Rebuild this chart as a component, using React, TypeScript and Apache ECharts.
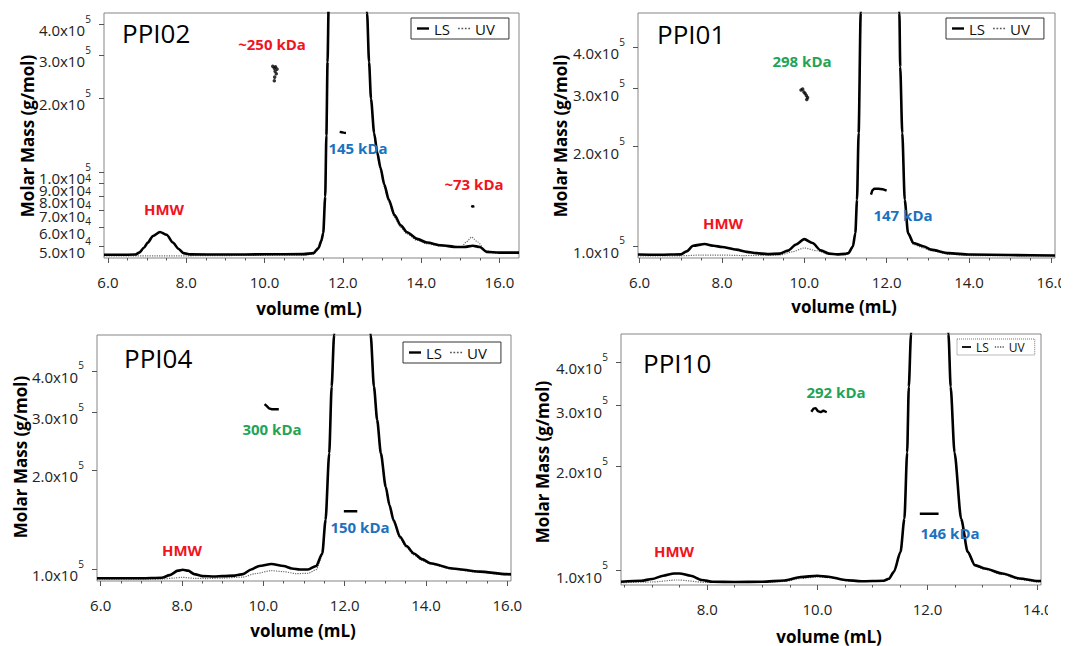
import React, { useEffect, useRef } from 'react';
import * as echarts from 'echarts';

const FONT = '"Open Sans", "Noto Sans", "DejaVu Sans", sans-serif';

// ---------------- data ----------------
const xTicksWide = [6, 8, 10, 12, 14, 16];
const xMinorWide = [6.5, 7, 7.5, 8.5, 9, 9.5, 10.5, 11, 11.5, 12.5, 13, 13.5, 14.5, 15, 15.5];
const xTicksNarrow = [8, 10, 12, 14];
const xMinorNarrow = [6.5, 7, 7.5, 8.5, 9, 9.5, 10.5, 11, 11.5, 12.5, 13, 13.5];
const yTicksPPI02 = [4e5, 3e5, 2e5, 1e5, 9e4, 8e4, 7e4, 6e4, 5e4];
const yTicksStd = [4e5, 3e5, 2e5, 1e5];

// detector traces: [volume mL, relative signal % of plot height]
const ppi02LS = [[5.9,1.3],[6.3,1.3],[6.7,1.4],[6.8,2.2],[6.92,4.2],[7.02,6.3],[7.15,9.0],[7.33,10.6],[7.5,9.5],[7.66,6.3],[7.8,3.8],[7.93,2.0],[8.1,1.5],[9.0,1.4],[10.0,1.5],[11.0,1.6],[11.25,2.0],[11.38,4.1],[11.45,7.0],[11.5,10.2],[11.55,25],[11.58,50],[11.61,80],[11.64,105],[11.72,160],[12.1,320],[12.5,150],[12.62,100],[12.67,80],[12.72,65],[12.8,51],[12.88,43],[12.96,37],[13.06,30],[13.17,24],[13.32,17.5],[13.48,13.3],[13.64,10.5],[13.9,7.8],[14.15,6.3],[14.5,5.2],[14.92,4.5],[15.1,4.5],[15.32,5.0],[15.5,4.5],[15.67,2.5],[16.0,2.2],[16.5,2.2]];
const ppi02UV = [[5.9,0.9],[7.0,0.9],[8.0,0.9],[9.0,1.0],[10.0,1.1],[11.0,1.2],[11.25,1.6],[11.38,3.6],[11.45,6.5],[11.5,9.8],[11.55,24.5],[11.58,49],[11.61,79],[11.64,104],[11.72,158],[12.1,318],[12.5,150],[12.62,100],[12.67,79],[12.72,64],[12.8,50],[12.88,42],[12.96,36],[13.06,29],[13.17,23],[13.32,16.6],[13.48,12.5],[13.64,9.8],[13.9,7.2],[14.15,5.8],[14.5,4.8],[14.92,4.3],[15.04,4.6],[15.15,6.5],[15.29,8.5],[15.45,6.5],[15.64,3.0],[15.9,2.0],[16.5,1.8]];
const ppi01LS = [[5.96,1.4],[6.5,1.3],[7.0,1.5],[7.14,2.7],[7.3,5.0],[7.58,5.7],[7.8,5.0],[8.0,4.5],[8.35,3.4],[8.6,2.5],[8.84,2.0],[9.1,1.6],[9.4,1.8],[9.6,3.0],[9.8,5.5],[10.0,7.7],[10.2,6.1],[10.4,3.1],[10.6,1.8],[10.8,1.5],[11.0,1.7],[11.07,2.0],[11.18,4.7],[11.24,10.2],[11.28,23.7],[11.32,51],[11.37,100],[11.45,150],[11.8,300],[12.2,150],[12.31,100],[12.33,78],[12.38,51],[12.44,23.7],[12.52,10.2],[12.65,6.1],[12.91,4.7],[13.08,3.4],[13.5,2.0],[14.02,1.4],[15.0,1.2],[16.09,1.0]];
const ppi01UV = [[5.96,0.9],[7.0,0.9],[7.5,1.2],[8.0,1.2],[8.5,1.0],[9.4,1.2],[9.7,2.5],[10.0,4.1],[10.3,3.0],[10.6,1.5],[11.0,1.4],[11.07,1.8],[11.18,4.4],[11.24,9.8],[11.28,23],[11.32,50],[11.37,99],[11.45,149],[11.8,298],[12.2,149],[12.31,99],[12.33,77],[12.38,50],[12.44,23],[12.52,9.6],[12.65,5.5],[12.91,4.0],[13.08,3.0],[13.5,1.6],[14.02,1.0],[16.09,0.8]];
const ppi04LS = [[5.91,1.1],[7.0,1.1],[7.5,1.3],[7.7,2.4],[7.9,4.2],[8.02,4.6],[8.15,4.2],[8.3,2.8],[8.5,2.0],[8.8,1.8],[9.0,2.0],[9.3,2.2],[9.5,2.8],[9.7,4.7],[9.9,6.1],[10.2,6.9],[10.5,6.1],[10.7,5.1],[10.9,4.7],[11.1,4.7],[11.3,6.1],[11.45,11.2],[11.53,24.8],[11.62,51.9],[11.68,79],[11.74,100],[11.8,140],[12.2,300],[12.55,140],[12.64,100],[12.72,79],[12.8,65.4],[12.89,51.9],[13.01,38.3],[13.1,31],[13.2,24.8],[13.36,18],[13.52,14.2],[13.7,11.2],[13.9,8.9],[14.11,7.2],[14.65,5.1],[15.32,3.8],[15.98,2.8],[16.09,2.7]];
const ppi04UV = [[5.91,0.8],[7.5,0.8],[7.8,1.2],[8.0,1.5],[8.3,1.1],[8.6,1.0],[9.0,1.2],[9.5,1.6],[9.8,3.0],[10.2,4.2],[10.5,3.8],[10.8,3.0],[11.1,3.1],[11.3,4.6],[11.45,10.4],[11.53,24],[11.62,51],[11.68,78],[11.74,99],[11.8,139],[12.2,298],[12.55,139],[12.64,99],[12.72,78],[12.8,64.5],[12.89,51],[13.01,37.5],[13.1,30.3],[13.2,24],[13.36,17.3],[13.52,13.6],[13.7,10.6],[13.9,8.4],[14.11,6.8],[14.65,4.8],[15.32,3.5],[15.98,2.5],[16.09,2.4]];
const ppi10LS = [[6.435,1.3],[6.8,1.7],[7.0,2.4],[7.2,3.7],[7.4,4.6],[7.5,4.6],[7.7,3.7],[7.9,2.0],[8.1,1.3],[8.5,1.2],[9.0,1.3],[9.4,1.8],[9.7,3.2],[10.0,3.7],[10.2,3.3],[10.5,2.0],[10.8,1.5],[11.2,1.7],[11.3,2.5],[11.39,5.3],[11.51,13.2],[11.58,26.4],[11.63,52.8],[11.66,79],[11.7,100],[11.8,160],[12.0,300],[12.3,160],[12.38,100],[12.42,79],[12.49,52.8],[12.61,26.4],[12.73,13.2],[12.86,7.9],[13.04,6.6],[13.36,4.6],[13.67,2.6],[14.0,1.6],[14.06,1.6]];
const ppi10UV = [[6.435,0.9],[7.0,1.2],[7.45,2.0],[8.0,1.0],[9.0,1.0],[9.4,1.4],[9.7,2.6],[10.0,3.2],[10.3,2.8],[10.6,1.4],[11.2,1.4],[11.3,2.2],[11.39,5.0],[11.51,12.8],[11.58,26],[11.63,52],[11.66,78],[11.7,99],[11.8,159],[12.0,298],[12.3,159],[12.38,99],[12.42,78],[12.49,52],[12.61,25.8],[12.73,12.8],[12.86,7.5],[13.04,6.2],[13.36,4.2],[13.67,2.2],[14.0,1.2],[14.06,1.2]];

// molar mass points: [volume mL, molar mass g/mol]
const ppi02MMDimer = [[10.21,2.70e5],[10.28,2.69e5],[10.25,2.65e5],[10.32,2.63e5],[10.27,2.58e5],[10.3,2.52e5],[10.26,2.44e5],[10.25,2.36e5]];
const ppi02MMMono = [[11.92,1.46e5],[11.97,1.455e5],[12.02,1.45e5],[12.08,1.445e5]];
const ppi02MMFrag = [[15.28,7.30e4],[15.32,7.25e4],[15.36,7.28e4]];
const ppi01MMDimer = [[9.92,2.97e5],[9.96,2.99e5],[9.99,2.93e5],[10.02,2.9e5],[10.05,2.86e5],[10.08,2.82e5],[10.06,2.78e5]];
const ppi01MMMono = [[11.62,1.43e5],[11.65,1.47e5],[11.7,1.49e5],[11.8,1.49e5],[11.9,1.485e5],[12.0,1.47e5]];
const ppi04MMDimer = [[10.03,3.17e5],[10.08,3.13e5],[10.14,3.08e5],[10.2,3.06e5],[10.3,3.06e5],[10.38,3.06e5]];
const ppi04MMMono = [[11.98,1.5e5],[12.1,1.5e5],[12.22,1.5e5],[12.31,1.5e5]];
const ppi10MMDimer = [[9.89,2.88e5],[9.93,2.94e5],[9.97,2.95e5],[10.01,2.89e5],[10.06,2.87e5],[10.11,2.9e5],[10.17,2.87e5]];
const ppi10MMMono = [[11.86,1.46e5],[12.03,1.46e5],[12.2,1.46e5]];

// axis extents
const ppi02XRange = [5.9, 16.5];
const ppi01XRange = [5.96, 16.09];
const ppi04XRange = [5.91, 16.09];
const ppi10XRange = [6.435, 14.06];
const ppi02YRange = [4.48e4, 4.45e5];
const ppi01YRange = [9.18e4, 5.09e5];
const ppi04YRange = [9.21e4, 5.14e5];
const ppi10YRange = [9.09e4, 4.83e5];

// ---------------- layout ----------------
const RED = '#f0141e';
const GREEN = '#1fa458';
const BLUE = '#1b72c0';

const LS_ICON = 'path://M0,0H12V2.4H0Z';
const UV_ICON = 'path://M0,0H1.5V1.5H0Z M3,0H4.5V1.5H3Z M6,0H7.5V1.5H6Z M9,0H10.5V1.5H9Z';

type Ann = { text: string; x: number; y: number; color: string };
type Panel = {
  title: string; titleX: number; titleY: number;
  grid: { left: number; top: number; width: number; height: number };
  xRange: number[]; yRange: number[];
  xTicks: number[]; xMinor: number[]; yTicks: number[];
  ls: number[][]; uv: number[][];
  mmLines: number[][][]; mmDots: number[][][];
  anns: Ann[];
  molar: [number, number]; volume: [number, number];
  legend: { left: number; top: number; small?: boolean };
};

const panels: Panel[] = [
  {
    title: 'PPI02', titleX: 122, titleY: 33,
    grid: { left: 104, top: 13, width: 415, height: 245 },
    xRange: ppi02XRange, yRange: ppi02YRange,
    xTicks: xTicksWide, xMinor: xMinorWide, yTicks: yTicksPPI02,
    ls: ppi02LS, uv: ppi02UV,
    mmLines: [ppi02MMMono, ppi02MMFrag], mmDots: [ppi02MMDimer],
    anns: [
      { text: '~250 kDa', x: 272, y: 44, color: RED },
      { text: '145 kDa', x: 358, y: 148, color: BLUE },
      { text: '~73 kDa', x: 474, y: 184, color: RED },
      { text: 'HMW', x: 164, y: 209, color: RED },
    ],
    molar: [27, 136], volume: [309, 308],
    legend: { left: 411, top: 18 },
  },
  {
    title: 'PPI01', titleX: 657, titleY: 34,
    grid: { left: 638, top: 13, width: 417, height: 245 },
    xRange: ppi01XRange, yRange: ppi01YRange,
    xTicks: xTicksWide, xMinor: xMinorWide, yTicks: yTicksStd,
    ls: ppi01LS, uv: ppi01UV,
    mmLines: [ppi01MMMono], mmDots: [ppi01MMDimer],
    anns: [
      { text: '298 kDa', x: 802, y: 61, color: GREEN },
      { text: '147 kDa', x: 903, y: 215, color: BLUE },
      { text: 'HMW', x: 723, y: 223, color: RED },
    ],
    molar: [560, 136], volume: [844, 306],
    legend: { left: 946, top: 18 },
  },
  {
    title: 'PPI04', titleX: 124, titleY: 358,
    grid: { left: 97, top: 335, width: 414, height: 246 },
    xRange: ppi04XRange, yRange: ppi04YRange,
    xTicks: xTicksWide, xMinor: xMinorWide, yTicks: yTicksStd,
    ls: ppi04LS, uv: ppi04UV,
    mmLines: [ppi04MMDimer, ppi04MMMono], mmDots: [],
    anns: [
      { text: '300 kDa', x: 272, y: 429, color: GREEN },
      { text: '150 kDa', x: 360, y: 527, color: BLUE },
      { text: 'HMW', x: 182, y: 550, color: RED },
    ],
    molar: [20, 457], volume: [303, 630],
    legend: { left: 403, top: 342 },
  },
  {
    title: 'PPI10', titleX: 643, titleY: 363,
    grid: { left: 621, top: 334, width: 420, height: 251 },
    xRange: ppi10XRange, yRange: ppi10YRange,
    xTicks: xTicksNarrow, xMinor: xMinorNarrow, yTicks: yTicksStd,
    ls: ppi10LS, uv: ppi10UV,
    mmLines: [ppi10MMDimer, ppi10MMMono], mmDots: [],
    anns: [
      { text: '292 kDa', x: 836, y: 392, color: GREEN },
      { text: '146 kDa', x: 950, y: 533, color: BLUE },
      { text: 'HMW', x: 674, y: 551, color: RED },
    ],
    molar: [542, 462], volume: [829, 636],
    legend: { left: 957, top: 339, small: true },
  },
];

function splitSci(v: number) {
  const raw = Math.pow(10, v);
  const exp = Math.floor(Math.log10(raw) + 1e-9);
  const mant = raw / Math.pow(10, exp);
  return { mant, exp };
}

function text(t: string, x: number, y: number, o: any = {}) {
  return {
    type: 'text',
    x, y,
    rotation: o.rotation || 0,
    z: 50,
    style: {
      text: t,
      fill: o.color || '#000',
      fontSize: o.size || 15,
      fontWeight: o.weight || 'normal',
      fontFamily: FONT,
      align: o.align || 'center',
      verticalAlign: 'middle',
      textAlign: o.align || 'center',
      textVerticalAlign: 'middle',
    },
  };
}

function buildOption() {
  const grid: any[] = [];
  const xAxis: any[] = [];
  const yAxis: any[] = [];
  const series: any[] = [];
  const legend: any[] = [];
  const graphic: any[] = [];
  const log = (v: number) => Math.log10(v);

  panels.forEach((p, i) => {
    grid.push({
      ...p.grid,
      show: true,
      borderColor: '#858585',
      borderWidth: 1,
      outerBoundsMode: 'none',
      containLabel: false,
    });
    const tickStyle = { color: '#555', width: 1 };
    xAxis.push({
      type: 'value', gridIndex: i, position: 'bottom',
      min: p.xRange[0], max: p.xRange[1],
      axisLine: { show: false },
      axisTick: { show: true, length: 5, customValues: p.xTicks, lineStyle: tickStyle },
      axisLabel: {
        show: true, customValues: p.xTicks, margin: 15,
        showMinLabel: true, showMaxLabel: true,
        formatter: (v: number) => v.toFixed(1),
        fontFamily: FONT, fontSize: 15, color: '#222', lineHeight: 18,
      },
      splitLine: { show: false },
    });
    xAxis.push({
      type: 'value', gridIndex: i, position: 'bottom',
      min: p.xRange[0], max: p.xRange[1],
      axisLine: { show: false },
      axisTick: { show: true, length: 2.5, customValues: p.xMinor, lineStyle: tickStyle },
      axisLabel: { show: false },
      splitLine: { show: false },
    });
    const yVals = p.yTicks.map(log);
    // molar mass axis: mantissa labels (below tick)
    yAxis.push({
      type: 'value', gridIndex: i, position: 'left',
      min: log(p.yRange[0]), max: log(p.yRange[1]),
      axisLine: { show: false },
      axisTick: { show: true, length: 5, customValues: yVals, lineStyle: tickStyle },
      axisLabel: {
        show: true, customValues: yVals, margin: 19,
        showMinLabel: true, showMaxLabel: true,
        verticalAlign: 'top', lineHeight: 12,
        formatter: (v: number) => `${splitSci(v).mant.toFixed(1)}x10`,
        fontFamily: FONT, fontSize: 15, color: '#222',
      },
      splitLine: { show: false },
    });
    // same scale: exponent labels (superscript, above tick)
    yAxis.push({
      type: 'value', gridIndex: i, position: 'left',
      min: log(p.yRange[0]), max: log(p.yRange[1]),
      axisLine: { show: false },
      axisTick: { show: false },
      axisLabel: {
        show: true, customValues: yVals, margin: 13,
        showMinLabel: true, showMaxLabel: true,
        verticalAlign: 'bottom', lineHeight: 11,
        formatter: (v: number) => `${splitSci(v).exp}`,
        fontFamily: FONT, fontSize: 10, color: '#222',
      },
      splitLine: { show: false },
    });
    yAxis.push({
      type: 'value', gridIndex: i, position: 'right', min: 0, max: 100, show: false,
      splitLine: { show: false },
    });
    const xi = i * 2, ym = i * 3, ys = i * 3 + 2;
    series.push({
      type: 'line', name: 'UV', xAxisIndex: xi, yAxisIndex: ys, data: p.uv,
      symbol: 'none', showSymbol: false, smooth: 0.25, smoothMonotone: 'x', z: 2,
      itemStyle: { color: '#666' },
      lineStyle: { color: '#6a6a6a', width: 1.2, type: 'dotted' },
    });
    series.push({
      type: 'line', name: 'LS', xAxisIndex: xi, yAxisIndex: ys, data: p.ls,
      symbol: 'none', showSymbol: false, smooth: 0.25, smoothMonotone: 'x', z: 3,
      itemStyle: { color: '#000' },
      lineStyle: { color: '#000', width: 2.6 },
    });
    p.mmLines.forEach((pts) => {
      series.push({
        type: 'line', name: 'Molar Mass', xAxisIndex: xi, yAxisIndex: ym,
        data: pts.map(([v, m]) => [v, log(m)]),
        symbol: 'none', showSymbol: false, z: 4,
        itemStyle: { color: '#000' },
        lineStyle: { color: '#000', width: 2.4 },
      });
    });
    p.mmDots.forEach((pts) => {
      series.push({
        type: 'scatter', name: 'Molar Mass', xAxisIndex: xi, yAxisIndex: ym,
        data: pts.map(([v, m]) => [v, log(m)]),
        symbolSize: 3.5, z: 4,
        itemStyle: { color: '#000' },
      });
    });

    const small = !!p.legend.small;
    legend.push({
      show: true, left: p.legend.left, top: p.legend.top,
      orient: 'horizontal', selectedMode: false,
      itemWidth: small ? 9 : 12, itemHeight: 10, itemGap: small ? 6 : 8,
      padding: small ? [2, 10, 2, 5] : [3, 14, 3, 6],
      borderColor: small ? '#777' : '#333', borderWidth: 1,
      borderType: small ? 'dotted' : 'solid',
      backgroundColor: '#fff',
      textStyle: { fontFamily: FONT, fontSize: small ? 12 : 15, color: '#111' },
      data: [
        { name: 'LS', icon: LS_ICON, itemStyle: { color: '#000' } },
        { name: 'UV', icon: UV_ICON, itemStyle: { color: '#555' } },
      ],
    });

    graphic.push(text(p.title, p.titleX, p.titleY, { size: 26, align: 'left' }));
    p.anns.forEach((a) => graphic.push(text(a.text, a.x, a.y, { size: 15, weight: 'bold', color: a.color })));
    graphic.push(text('Molar Mass (g/mol)', p.molar[0], p.molar[1], { size: 17, weight: 'bold', rotation: Math.PI / 2 }));
    graphic.push(text('volume (mL)', p.volume[0], p.volume[1], { size: 17, weight: 'bold' }));
  });

  // the source figure is cropped at the right edge of each row
  graphic.push({ type: 'rect', z: 100, shape: { x: 1061, y: 268, width: 14, height: 32 }, style: { fill: '#fff' } });
  graphic.push({ type: 'rect', z: 100, shape: { x: 1048, y: 597, width: 27, height: 32 }, style: { fill: '#fff' } });

  return {
    animation: false,
    backgroundColor: '#fff',
    grid, xAxis, yAxis, series, legend, graphic,
  };
}

export default function App() {
  const ref = useRef<HTMLDivElement>(null);
  useEffect(() => {
    const chart = echarts.init(ref.current!, null, { renderer: 'svg' });
    chart.setOption(buildOption() as any);
    return () => chart.dispose();
  }, []);
  return (
    <div
      ref={ref}
      style={{ position: 'fixed', left: 0, top: 0, width: 1075, height: 646, background: '#fff' }}
    />
  );
}
